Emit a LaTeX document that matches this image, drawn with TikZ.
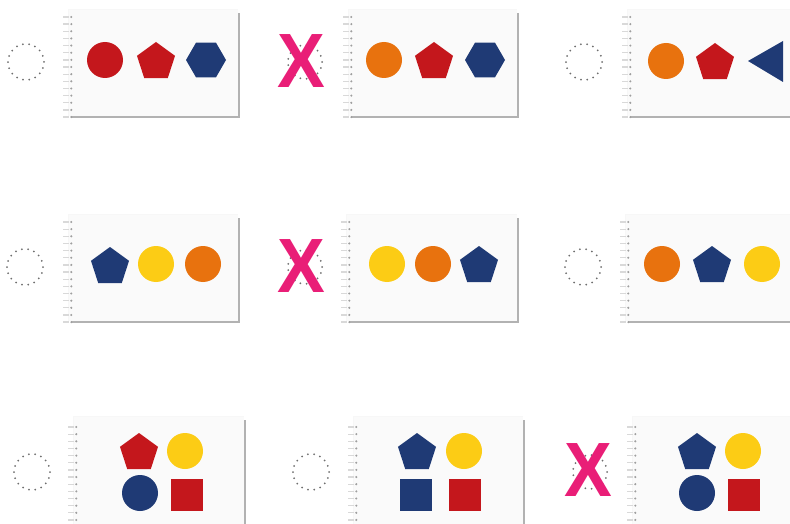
\documentclass[tikz,border=0pt]{standalone}
\usepackage{fontspec}
\usepackage{graphicx}
\setmainfont{Liberation Sans}
\usetikzlibrary{shapes.geometric}
\definecolor{cred}{HTML}{C4171C}
\definecolor{cnavy}{HTML}{1F3A75}
\definecolor{corange}{HTML}{E8720E}
\definecolor{cyellow}{HTML}{FCCC15}
\definecolor{cpink}{HTML}{E91E77}
\definecolor{cardbg}{HTML}{FAFAFA}
\definecolor{ringdot}{HTML}{6E6E6E}
\tikzset{
  shp/.style={inner sep=0pt, outer sep=0pt, draw=none},
  circ/.style={shp, circle, minimum size=36pt},
  pent/.style={shp, regular polygon, regular polygon sides=5, minimum size=40pt},
  hexa/.style={shp, regular polygon, regular polygon sides=6, minimum size=40pt},
  sq/.style={shp, rectangle, minimum size=32pt},
  ring/.style={circle, minimum size=36pt, inner sep=0pt, draw=ringdot, line width=2pt, line cap=round, dash pattern=on 0pt off 6.28pt},
  cross/.style={text=cpink, inner sep=0pt, font=\fontsize{77}{77}\selectfont\bfseries},
}
\newcommand\mycard[6]{% left, top, right, bottom, spiral x, first dot y
  \fill[gray!60] (#1+3,#2+4) rectangle (#3+2.2,#4+2.2);
  \fill[cardbg] (#1,#2) rectangle (#3,#4);
  \draw[gray!6, line width=0.5pt] (#1,#4) -- (#1,#2) -- (#3,#2);
  \foreach \k in {0,...,14} {
    \draw[gray!30, line width=1.3pt] (#5, #6+\k*7.15) -- ++(6,0);
    \fill[gray!75] (#5+8.3, #6+\k*7.15) circle (1.15);
  }
}
\begin{document}
\begin{tikzpicture}[x=1pt,y=-1pt]
\useasboundingbox (0,0) rectangle (790,524);
\clip (0,0) rectangle (790,524);

% ---------- Row 1 ----------
\node[ring] (r1a) at (26,62) {};
\mycard{68}{9}{238}{116}{63}{17}
\node[circ, fill=cred] (c1a1) at (105,60) {};
\node[pent, fill=cred] (c1a2) at (156,62) {};
\node[hexa, fill=cnavy] (c1a3) at (206,60) {};

\node[ring, minimum size=34pt] (r1b) at (305,62) {};
\node[cross] (x1) at (301,61) {\scalebox{0.93}[1]{X}};
\mycard{348}{9}{517}{116}{343}{17}
\node[circ, fill=corange] (c1b1) at (384,60) {};
\node[pent, fill=cred] (c1b2) at (434,62) {};
\node[hexa, fill=cnavy] (c1b3) at (485,60) {};

\node[ring] (r1c) at (584,62) {};
\mycard{627}{9}{800}{116}{622}{17}
\node[circ, fill=corange] (c1c1) at (666,61) {};
\node[pent, fill=cred] (c1c2) at (715,63) {};
\fill[cnavy] (748,61) -- (783,41) -- (783,82) -- cycle;

% ---------- Row 2 ----------
\node[ring] (r2a) at (25,267) {};
\mycard{68}{214}{238}{321}{63}{222}
\node[pent, fill=cnavy] (c2a1) at (110,267) {};
\node[circ, fill=cyellow] (c2a2) at (156,264) {};
\node[circ, fill=corange] (c2a3) at (203,264) {};

\node[ring, minimum size=34pt] (r2b) at (305,267) {};
\node[cross] (x2) at (301,266.5) {\scalebox{0.93}[1]{X}};
\mycard{346}{214}{517}{321}{341}{222}
\node[circ, fill=cyellow] (c2b1) at (387,264) {};
\node[circ, fill=corange] (c2b2) at (433,264) {};
\node[pent, fill=cnavy] (c2b3) at (479,266) {};

\node[ring] (r2c) at (583,267) {};
\mycard{625}{214}{800}{321}{620}{222}
\node[circ, fill=corange] (c2c1) at (662,264) {};
\node[pent, fill=cnavy] (c2c2) at (712,266) {};
\node[circ, fill=cyellow] (c2c3) at (762,264) {};

% ---------- Row 3 ----------
\node[ring] (r3a) at (32,472) {};
\mycard{73}{416}{244}{540}{68}{427}
\node[pent, fill=cred] (c3a1) at (139,453) {};
\node[circ, fill=cyellow] (c3a2) at (185,451) {};
\node[circ, fill=cnavy] (c3a3) at (140,493) {};
\node[sq, fill=cred] (c3a4) at (187,495) {};

\node[ring] (r3b) at (311,472) {};
\mycard{353}{416}{523}{540}{348}{427}
\node[pent, fill=cnavy] (c3b1) at (417,453) {};
\node[circ, fill=cyellow] (c3b2) at (464,451) {};
\node[sq, fill=cnavy] (c3b3) at (416,495) {};
\node[sq, fill=cred] (c3b4) at (465,495) {};

\node[ring, minimum size=34pt] (r3c) at (590,472) {};
\node[cross] (x3) at (588,470.5) {\scalebox{0.93}[1]{X}};
\mycard{632}{416}{800}{540}{627}{427}
\node[pent, fill=cnavy] (c3c1) at (697,453) {};
\node[circ, fill=cyellow] (c3c2) at (743,451) {};
\node[circ, fill=cnavy] (c3c3) at (697,493) {};
\node[sq, fill=cred] (c3c4) at (744,495) {};
\end{tikzpicture}
\end{document}
